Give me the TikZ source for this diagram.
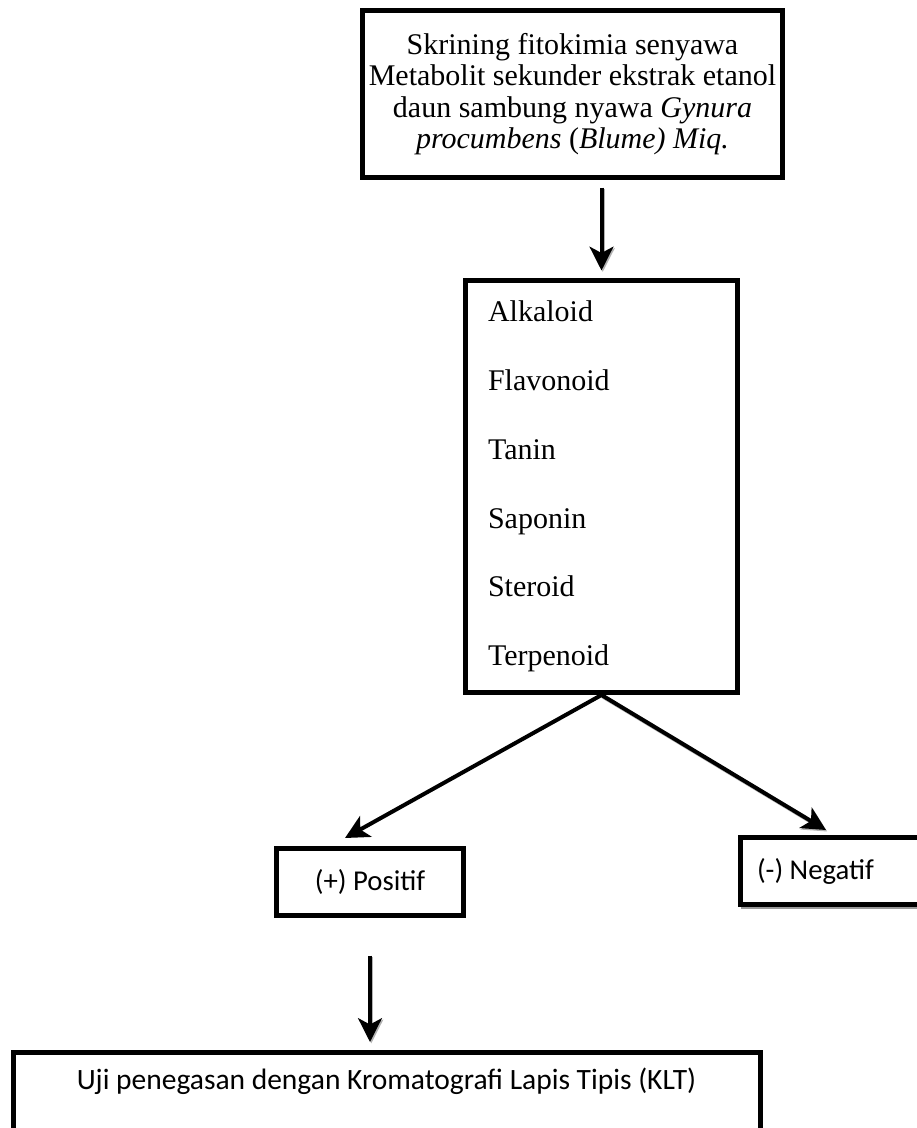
\documentclass[tikz,border=0pt]{standalone}
\usepackage{fontspec}
\setmainfont{Liberation Serif}
\newfontfamily\calibri{Carlito}
\usepackage{tikz}
\usetikzlibrary{positioning,arrows.meta,shadows}

\tikzset{
  box/.style={draw, line width=2pt, fill=white, inner sep=0pt, align=center},
  arr/.style={line width=1.6pt, -{Stealth[length=9.5pt,width=9.5pt,inset=2.5pt]}},
  arrshadow/.style={preaction={draw=gray!60, line width=1.6pt, -{Stealth[length=9.5pt,width=9.5pt,inset=2.5pt]},
      transform canvas={xshift=0.5pt,yshift=-0.6pt}}}
}

\begin{document}
\begin{tikzpicture}[x=0.4pt,y=-0.4pt]
    \useasboundingbox (0,0) rectangle (916,1128);
    % boxes
    \node[box, minimum width=168pt, minimum height=66.8pt, font=\fontsize{12}{12.6}\selectfont] (skrining) at (572.5,94)
        {Skrining fitokimia senyawa\\ Metabolit sekunder ekstrak etanol\\ daun sambung nyawa \textit{Gynura}\\ \textit{procumbens} (\textit{Blume) Miq.}};
    \node[box, minimum height=164.8pt, inner xsep=9pt, text width=90.8pt, align=left, font=\fontsize{12}{27.5}\selectfont] (senyawa) at (601.5,486.5)
        {Alkaloid\\ Flavonoid\\ Tanin\\ Saponin\\ Steroid\\ Terpenoid};
    \node[box, minimum width=74.8pt, minimum height=26.8pt, font=\calibri\fontsize{11.5}{14}\selectfont] (positif) at (370,882) {(+) Positif};
    \node[box, anchor=west, minimum height=26.8pt, inner xsep=6.8pt, font=\calibri\fontsize{11.5}{14}\selectfont,
        drop shadow={shadow xshift=0.4pt, shadow yshift=-1.6pt, fill=gray, opacity=0.8}] (negatif) at (737.5,871)
        {\makebox[70pt][l]{(-) Negatif}};
    \node[box, anchor=north west, minimum width=298.8pt, text height=15pt, text depth=45pt, font=\calibri\fontsize{11.8}{14}\selectfont] (klt) at (10.5,1049.5)
        {Uji penegasan dengan Kromatografi Lapis Tipis (KLT)};
    % arrow ends
    \coordinate (tipL) at (345,838);
    \coordinate (tipR) at (826,830);
    % arrows
    \draw[arr, arrshadow, shorten <=3pt, shorten >=3pt] (skrining.south -| senyawa.north) -- (senyawa.north);
    \draw[arr] (senyawa.south) -- (tipL);
    \draw[arr, arrshadow] (senyawa.south) -- (tipR);
    \draw[arr, arrshadow, shorten <=15pt, shorten >=3pt] (positif.south) -- (positif.south |- klt.north);
\end{tikzpicture}
\end{document}
